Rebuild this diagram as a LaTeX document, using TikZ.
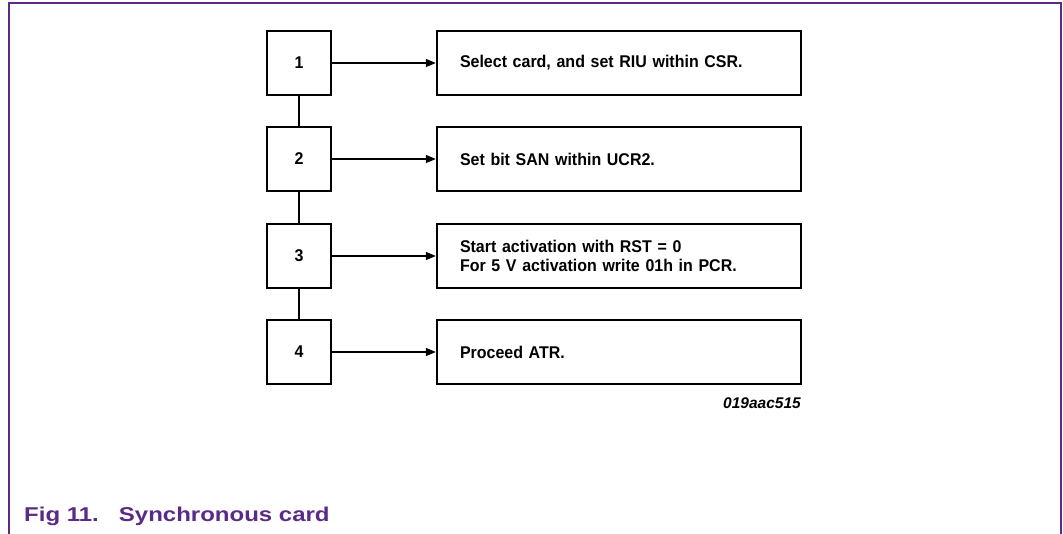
\documentclass[tikz,border=0pt]{standalone}
\usepackage{fontspec}
\setmainfont{Liberation Sans}
\newfontfamily\boxfont{Liberation Sans}[FakeStretch=0.94]
\newfontfamily\capfont{Liberation Sans}[FakeStretch=1.2]
\usetikzlibrary{arrows.meta}
\definecolor{nxppurple}{HTML}{5A2A86}
\begin{document}
\begin{tikzpicture}[x=1pt,y=-1pt,
  numbox/.style={draw=black,line width=2.4pt,minimum width=64pt,minimum height=64pt,inner sep=0pt,font=\fontsize{17}{19}\boxfont\bfseries},
  txtbox/.style={draw=black,line width=2.4pt,minimum width=364pt,minimum height=64pt,inner sep=0pt,text width=318pt,align=left,font=\fontsize{17}{19.5}\boxfont\bfseries},
  link/.style={line width=1.2pt},
  flow/.style={line width=1.2pt,-{Triangle[length=10pt,width=8pt]}}]
\useasboundingbox (0,0) rectangle (1063,534);
% page frame
\draw[nxppurple,line width=2pt] (9,534) -- (9,3) -- (1061,3) -- (1061,534);
% step numbers
\node[numbox] (n1) at (299,63) {1};
\node[numbox] (n2) at (299,159) {2};
\node[numbox] (n3) at (299,256) {3};
\node[numbox] (n4) at (299,352) {4};
% step descriptions
\node[txtbox] (t1) at (619,63) {Select card, and set RIU within CSR.};
\node[txtbox] (t2) at (619,159) {Set bit SAN within UCR2.};
\node[txtbox] (t3) at (619,256) {Start activation with RST = 0\\For 5 V activation write 01h in PCR.};
\node[txtbox] (t4) at (619,352) {Proceed ATR.};
% connectors
\draw[link] (n1) -- (n2);
\draw[link] (n2) -- (n3);
\draw[link] (n3) -- (n4);
\draw[flow] (n1) -- (t1);
\draw[flow] (n2) -- (t2);
\draw[flow] (n3) -- (t3);
\draw[flow] (n4) -- (t4);
% figure code and caption
\node[anchor=north east,inner sep=0pt,font=\fontsize{15.5}{17}\selectfont\bfseries\itshape] (code) at (801,397) {019aac515};
\node[anchor=base west,inner sep=0pt,text=nxppurple,font=\fontsize{20}{24}\capfont\bfseries] (cap) at (24,521) {Fig 11.\hspace{20pt}Synchronous card};
\end{tikzpicture}
\end{document}
